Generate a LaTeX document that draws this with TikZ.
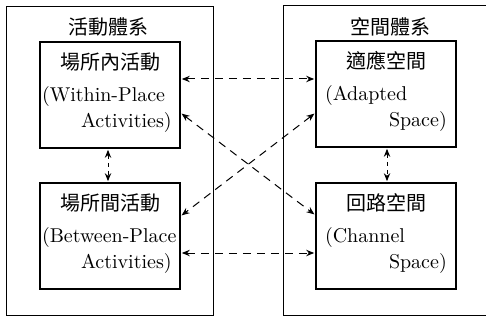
\documentclass[tikz,border=0pt]{standalone}
\usepackage{fontspec}
\newfontfamily\cjk{Noto Sans CJK TC}
\usetikzlibrary{arrows.meta}

\begin{document}
\begin{tikzpicture}[x=0.5pt,y=-0.5pt,>={Stealth[length=4pt,width=3.2pt]}]
		\tikzstyle{system}=[draw,line width=0.5pt]
		\tikzstyle{sub}=[draw,line width=0.8pt,minimum width=70pt,minimum height=53pt,text width=68pt,inner xsep=1pt,align=left,font=\linespread{1.08}\selectfont]
		\tikzstyle{link}=[<->,shorten >=0.5pt,shorten <=0.5pt,line width=0.5pt,dash pattern=on 4pt off 3pt]
		\tikzstyle{short link}=[link,dash pattern=on 2pt off 2pt]
		
		\clip[use as bounding box] (0,0) rectangle (486,326);
		\draw[system] (6,7) rectangle (213,315);
		\draw[system] (283,6) rectangle (495,315);
		\node (act) at (108,27) {\cjk 活動體系};
		\node (spc) at (390,27) {\cjk 空間體系};
		
		\node[sub] (wp) at (110,95) {\mbox{}\hfill{\cjk 場所內活動}\hfill\mbox{}\\[3pt](Within-Place\\\hspace*{19.5pt}Activities)\par\vspace{2.5pt}\hrule height 0pt};
		\node[sub] (bp) at (110,236) {\mbox{}\hfill{\cjk 場所間活動}\hfill\mbox{}\\[3pt](Between-Place\\\hspace*{19.5pt}Activities)\par\vspace{2.5pt}\hrule height 0pt};
		\node[sub] (as) at (386,94) {\mbox{}\hfill{\cjk 適應空間}\hfill\mbox{}\\[3pt]\hspace*{3.5pt}(Adapted\\\hspace*{35.5pt}Space)\par\vspace{2.5pt}\hrule height 0pt};
		\node[sub] (cs) at (386,236) {\mbox{}\hfill{\cjk 回路空間}\hfill\mbox{}\\[3pt]\hspace*{3.5pt}(Channel\\\hspace*{35.5pt}Space)\par\vspace{2.5pt}\hrule height 0pt};
		
		\draw[link] ([yshift=8pt]wp.east) -- ([yshift=7.5pt]as.west);
		\draw[link] ([yshift=-8.5pt]bp.east) -- ([yshift=-8.5pt]cs.west);
		\draw[link] ([yshift=-9pt]wp.east) -- ([yshift=10.5pt]cs.west);
		\draw[link] ([yshift=-9.5pt]as.west) -- ([yshift=10pt]bp.east);
		\draw[short link] ([xshift=-1pt]wp.south) -- ([xshift=-1pt]bp.north);
		\draw[short link] ([xshift=0.5pt]as.south) -- ([xshift=0.5pt]cs.north);
\end{tikzpicture}
\end{document}
